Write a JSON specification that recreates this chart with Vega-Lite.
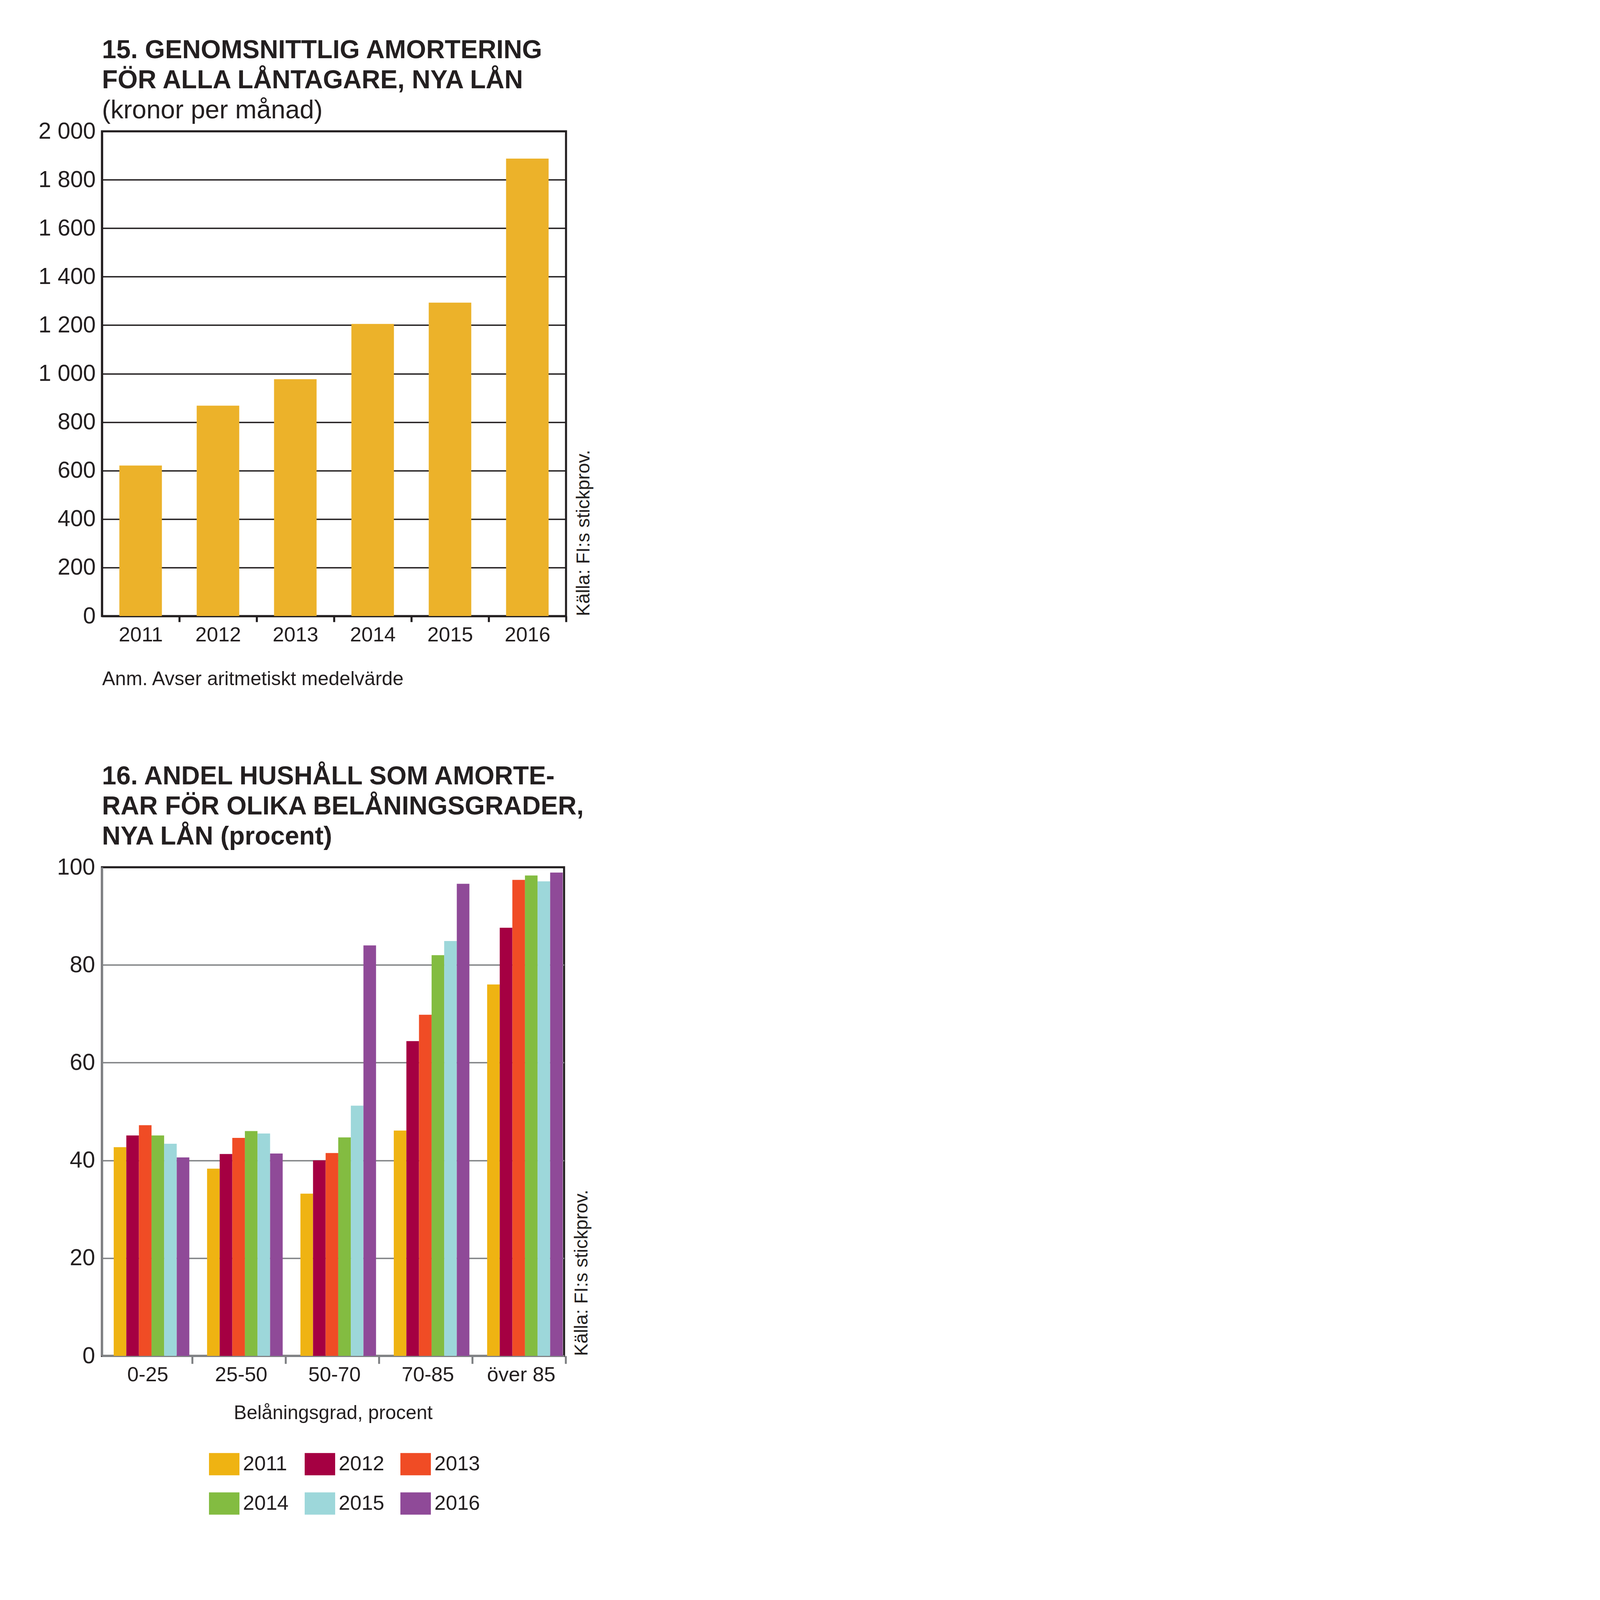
{
  "$schema": "https://vega.github.io/schema/vega-lite/v6.json",
  "background": "white",
  "autosize": {"type": "pad"},
  "padding": {"left": 95, "top": 93, "right": 10, "bottom": 10},
  "spacing": 185,
  "resolve": {"legend": {"color": "independent"}},
  "config": {
    "font": "Liberation Sans",
    "view": {"stroke": "#231f20", "strokeWidth": 5.25},
    "axis": {"labelFont": "Liberation Sans", "titleFont": "Liberation Sans", "labelColor": "#231f20", "titleColor": "#231f20", "titleFontWeight": "normal", "labelLimit": 0},
    "legend": {"labelFont": "Liberation Sans", "labelColor": "#231f20"},
    "title": {"font": "Liberation Sans", "subtitleFont": "Liberation Sans", "color": "#231f20", "subtitleColor": "#231f20", "fontSize": 66, "subtitleFontSize": 66, "fontWeight": "bold", "subtitleFontWeight": "normal", "lineHeight": 77, "subtitleLineHeight": 77, "anchor": "start", "frame": "group", "offset": 15, "subtitlePadding": 11}
  },
  "vconcat": [
    {
      "width": 1188,
      "height": 1241,
      "title": {"text": ["15. GENOMSNITTLIG AMORTERING", "FÖR ALLA LÅNTAGARE, NYA LÅN"], "subtitle": "(kronor per månad)", "offset": -10},
      "data": {"values": [
        {"year": "2011", "value": 621},
        {"year": "2012", "value": 868},
        {"year": "2013", "value": 977},
        {"year": "2014", "value": 1205},
        {"year": "2015", "value": 1293},
        {"year": "2016", "value": 1887}
      ]},
      "layer": [
        {
          "mark": {"type": "bar", "color": "#ECB22A"},
          "encoding": {
            "x": {"field": "year", "type": "nominal", "scale": {"paddingInner": 0.45, "paddingOuter": 0.225},
              "axis": {"title": "Anm. Avser aritmetiskt medelvärde", "titleAnchor": "start", "titleAlign": "left", "titleFontSize": 50, "titlePadding": 62,
                "labelAngle": 0, "labelFontSize": 52.5, "labelPadding": 8, "tickOffset": 99, "labelOffset": -99, "ticks": true, "tickSize": 15, "tickWidth": 5.25, "tickColor": "#231f20",
                "domainColor": "#231f20", "domainWidth": 5.25, "grid": false}},
            "y": {"field": "value", "type": "quantitative", "scale": {"domain": [0, 2000]},
              "axis": {"values": [0, 200, 400, 600, 800, 1000, 1200, 1400, 1600, 1800, 2000], "labelExpr": "replace(format(datum.value, ','), ',', ' ')", "title": null,
                "labelFontSize": 58.5, "labelPadding": 16.5, "ticks": false, "domainColor": "#231f20", "domainWidth": 5.25, "grid": true, "gridColor": "#231f20", "gridWidth": 3.4}}
          }
        },
        {
          "mark": {"type": "bar", "opacity": 0},
          "encoding": {
            "x": {"field": "year", "type": "nominal"},
            "y": {"field": "value", "type": "quantitative", "stack": null,
              "axis": {"orient": "right", "title": "Källa: FI:s stickprov.", "labels": false, "ticks": false, "domain": false, "grid": false,
                "titleAngle": 270, "titleAnchor": "start", "titleAlign": "left", "titleBaseline": "top", "titlePadding": 21, "titleFontSize": 48}}
          }
        }
      ],
      "resolve": {"axis": {"y": "independent"}}
    },
    {
      "width": 1183,
      "height": 1251,
      "title": {"text": ["16. ANDEL HUSHÅLL SOM AMORTE-", "RAR FÖR OLIKA BELÅNINGSGRADER,", "NYA LÅN (procent)"]},
      "data": {"values": [
        {"grad": "0-25", "year": "2011", "value": 42.7},
        {"grad": "0-25", "year": "2012", "value": 45.1},
        {"grad": "0-25", "year": "2013", "value": 47.2},
        {"grad": "0-25", "year": "2014", "value": 45.1},
        {"grad": "0-25", "year": "2015", "value": 43.4},
        {"grad": "0-25", "year": "2016", "value": 40.6},
        {"grad": "25-50", "year": "2011", "value": 38.3},
        {"grad": "25-50", "year": "2012", "value": 41.3},
        {"grad": "25-50", "year": "2013", "value": 44.6},
        {"grad": "25-50", "year": "2014", "value": 46.0},
        {"grad": "25-50", "year": "2015", "value": 45.5},
        {"grad": "25-50", "year": "2016", "value": 41.4},
        {"grad": "50-70", "year": "2011", "value": 33.2},
        {"grad": "50-70", "year": "2012", "value": 40.0},
        {"grad": "50-70", "year": "2013", "value": 41.5},
        {"grad": "50-70", "year": "2014", "value": 44.7},
        {"grad": "50-70", "year": "2015", "value": 51.2},
        {"grad": "50-70", "year": "2016", "value": 84.0},
        {"grad": "70-85", "year": "2011", "value": 46.1},
        {"grad": "70-85", "year": "2012", "value": 64.4},
        {"grad": "70-85", "year": "2013", "value": 69.8},
        {"grad": "70-85", "year": "2014", "value": 82.0},
        {"grad": "70-85", "year": "2015", "value": 84.9},
        {"grad": "70-85", "year": "2016", "value": 96.6},
        {"grad": "över 85", "year": "2011", "value": 76.0},
        {"grad": "över 85", "year": "2012", "value": 87.6},
        {"grad": "över 85", "year": "2013", "value": 97.4},
        {"grad": "över 85", "year": "2014", "value": 98.3},
        {"grad": "över 85", "year": "2015", "value": 97.1},
        {"grad": "över 85", "year": "2016", "value": 98.9}
      ]},
      "layer": [
        {
          "mark": {"type": "bar"},
          "encoding": {
            "x": {"field": "grad", "type": "nominal", "sort": ["0-25", "25-50", "50-70", "70-85", "över 85"],
              "scale": {"paddingInner": 0.19, "paddingOuter": 0.07, "align": 0.9},
              "axis": {"title": "Belåningsgrad, procent", "titleFontSize": 49.5, "titlePadding": 48,
                "labelAngle": 0, "labelFontSize": 52.5, "labelPadding": 3, "tickOffset": 104, "labelOffset": -114, "ticks": true, "tickSize": 20, "tickWidth": 5, "tickColor": "#808285",
                "domainColor": "#808285", "domainWidth": 4.9, "grid": false}},
            "xOffset": {"field": "year", "type": "nominal", "scale": {"paddingInner": 0, "paddingOuter": 0}},
            "y": {"field": "value", "type": "quantitative", "scale": {"domain": [0, 100]},
              "axis": {"values": [0, 20, 40, 60, 80, 100], "title": null, "labelFontSize": 58.5, "labelPadding": 18, "ticks": false,
                "domainColor": "#808285", "domainWidth": 5.25, "grid": true,
                "gridColor": {"condition": {"test": "datum.value === 100", "value": "#231f20"}, "value": "#808285"}, "gridWidth": 3.4}},
            "color": {"field": "year", "type": "nominal",
              "scale": {"domain": ["2011", "2012", "2013", "2014", "2015", "2016"], "range": ["#EFB312", "#A50042", "#F04C25", "#83BC41", "#9DD7DA", "#8F4A98"]},
              "legend": {"orient": "none", "legendX": 274, "legendY": 1489, "direction": "horizontal", "columns": 3, "title": null, "padding": 0,
                "symbolType": "M-1,-0.73H1V0.73H-1Z", "symbolSize": 6084, "symbolStrokeWidth": 0, "symbolOpacity": 1,
                "labelFontSize": 52.5, "labelOffset": 9, "columnPadding": 41, "rowPadding": 33, "labelLimit": 0}}
          }
        },
        {
          "mark": {"type": "bar", "opacity": 0},
          "encoding": {
            "x": {"field": "grad", "type": "nominal", "sort": ["0-25", "25-50", "50-70", "70-85", "över 85"]},
            "xOffset": {"field": "year", "type": "nominal"},
            "y": {"field": "value", "type": "quantitative", "stack": null,
              "axis": {"orient": "right", "title": "Källa: FI:s stickprov.", "labels": false, "ticks": false, "domain": false, "grid": false,
                "titleAngle": 270, "titleAnchor": "start", "titleAlign": "left", "titleBaseline": "top", "titlePadding": 21, "titleFontSize": 48}}
          }
        }
      ],
      "resolve": {"axis": {"y": "independent"}}
    }
  ]
}
